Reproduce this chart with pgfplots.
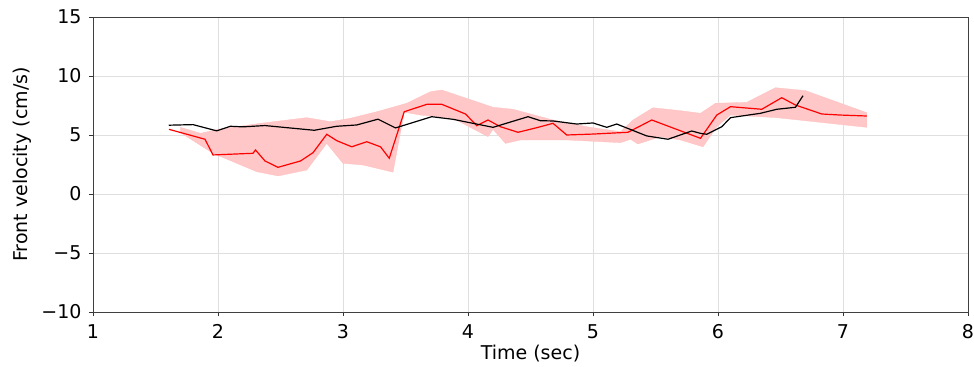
\documentclass[border=0pt]{standalone}
\usepackage{pgfplots}
\pgfplotsset{compat=1.18}
\usepackage{fontspec}
\setmainfont{DejaVu Sans}
\begin{document}
\begin{tikzpicture}
\begin{axis}[
  name=ax,
  scale only axis, width=875bp, height=295bp,
  xmin=1, xmax=8, ymin=-10, ymax=15,
  xtick={1,2,3,4,5,6,7,8},
  ytick={-10,-5,0,5,10,15},
  yticklabels={−10,−5,0,5,10,15},
  /pgf/number format/assume math mode=true,
  xtick pos=bottom, ytick pos=left,
  grid=major, major grid style={gray!25, line width=0.6pt},
  tick align=outside, major tick length=4bp,
  tick style={black!80, line width=0.8pt},
  axis line style={black!75, line width=1pt},
  tick label style={font=\fontsize{19bp}{23bp}\selectfont},
  label style={font=\fontsize{19bp}{23bp}\selectfont},
  xticklabel style={yshift=-5bp}, yticklabel style={xshift=-4bp},
  xlabel={Time (sec)}, ylabel={Front velocity (cm/s)},
  xlabel style={yshift=1bp}, ylabel style={yshift=3bp},
]
\addplot[fill=red!22, draw=red!25, line width=0.3pt] coordinates {
(1.70,5.65)(1.86,5.14)(2.00,5.48)(2.34,5.99)(2.71,6.47)(2.90,6.13)(3.06,6.42)(3.27,6.97)(3.51,7.69)(3.70,8.67)(3.79,8.81)(4.20,7.35)(4.36,7.18)(4.68,6.27)(4.95,5.70)(5.22,5.28)(5.32,6.27)(5.48,7.31)(5.70,7.06)(5.86,6.84)(5.98,7.69)(6.23,7.77)(6.46,9.01)(6.70,8.76)(7.19,6.89)
(7.19,5.65)(6.47,6.47)(6.10,6.69)(5.99,5.70)(5.88,4.00)(5.70,4.58)(5.54,4.86)(5.36,4.24)(5.30,4.64)(5.22,4.35)(4.79,4.58)(4.42,4.58)(4.30,4.29)(4.20,5.48)(4.16,4.86)(3.88,6.42)(3.62,6.69)(3.49,6.93)(3.40,1.85)(3.16,2.46)(3.00,2.60)(2.87,4.29)(2.71,2.03)(2.48,1.53)(2.31,1.89)(1.96,3.45)(1.70,5.20)
} -- cycle;
\addplot[red, line width=1.2pt] coordinates {
(1.608,5.48)(1.896,4.64)(1.96,3.31)(2.28,3.45)(2.30,3.73)(2.376,2.80)(2.48,2.26)(2.66,2.80)(2.76,3.50)(2.87,5.06)(2.95,4.52)(3.07,4.00)(3.19,4.43)(3.30,4.00)(3.37,3.03)(3.49,6.97)(3.67,7.60)(3.79,7.60)(3.98,6.78)(4.07,5.79)(4.16,6.27)(4.26,5.70)(4.40,5.23)(4.55,5.62)(4.68,5.99)(4.79,5.00)(5.00,5.08)(5.28,5.23)(5.47,6.27)(5.86,4.72)(5.99,6.69)(6.10,7.40)(6.35,7.18)(6.51,8.16)(6.62,7.54)(6.83,6.78)(6.98,6.69)(7.19,6.61)
};
\addplot[black, line width=1.2pt] coordinates {
(1.606,5.83)(1.80,5.88)(1.99,5.35)(2.10,5.74)(2.20,5.69)(2.375,5.80)(2.77,5.40)(2.95,5.74)(3.11,5.85)(3.28,6.34)(3.42,5.60)(3.71,6.55)(3.88,6.33)(4.20,5.65)(4.48,6.55)(4.58,6.21)(4.68,6.19)(4.87,5.93)(5.00,6.02)(5.11,5.65)(5.19,5.93)(5.43,4.92)(5.60,4.64)(5.79,5.34)(5.86,5.14)(5.91,5.06)(6.03,5.70)(6.10,6.47)(6.34,6.84)(6.47,7.18)(6.62,7.35)(6.68,8.33)
};
\end{axis}
\pgfresetboundingbox
\path[use as bounding box] ([shift={(-93bp,-55bp)}]ax.south west) rectangle ([shift={(6bp,17bp)}]ax.north east);
\end{tikzpicture}
\end{document}
